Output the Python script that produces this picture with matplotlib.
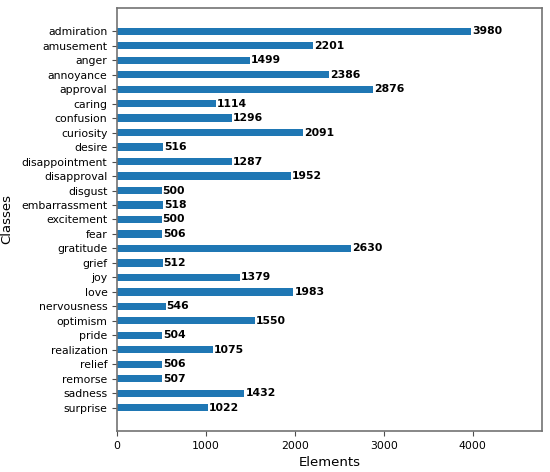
import numpy as np
import matplotlib
matplotlib.use("Agg")
import matplotlib.pyplot as plt

classes = ['admiration', 'amusement', 'anger', 'annoyance', 'approval', 'caring',
           'confusion', 'curiosity', 'desire', 'disappointment', 'disapproval',
           'disgust', 'embarrassment', 'excitement', 'fear', 'gratitude', 'grief',
           'joy', 'love', 'nervousness', 'optimism', 'pride', 'realization',
           'relief', 'remorse', 'sadness', 'surprise']
counts = [3980, 2201, 1499, 2386, 2876, 1114, 1296, 2091, 516, 1287, 1952,
          500, 518, 500, 506, 2630, 512, 1379, 1983, 546, 1550, 504, 1075,
          506, 507, 1432, 1022]

fig, ax = plt.subplots(figsize=(5.5, 4.72), dpi=100)
y = np.arange(len(classes))
ax.barh(y, counts, height=0.5, color='#1f77b4')
for yi, c in zip(y, counts):
    ax.text(c + 10, yi, str(c), va='center', ha='left', fontsize=7.8, fontweight='bold')

ax.set_yticks(y)
ax.set_yticklabels(classes, fontsize=7.8)
ax.tick_params(axis='x', labelsize=7.8)
ax.tick_params(color='0.3')
for s in ax.spines.values():
    s.set_color('0.45')
    s.set_linewidth(1.2)
ax.set_xlim(0, max(counts) * 1.2)
ax.set_ylim(len(classes) - 1 + 1.6, -1.6)
ax.set_xlabel('Elements', fontsize=9.5)
ax.set_ylabel('Classes', fontsize=9.5, labelpad=6)

plt.subplots_adjust(left=0.213, right=0.985, top=0.983, bottom=0.087)
plt.savefig('out.png', dpi=100)
